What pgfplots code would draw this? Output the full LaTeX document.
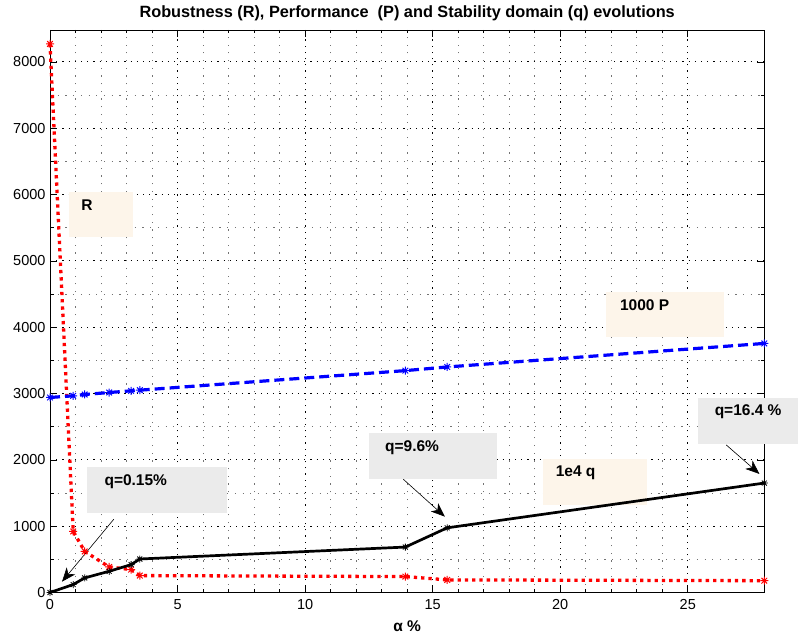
\documentclass[border=0pt]{standalone}
\usepackage{fontspec}
\setmainfont{Liberation Sans}
\usepackage{pgfplots}
\usepackage{pgfplotstable}
\pgfplotsset{compat=1.18}
\usetikzlibrary{arrows.meta}

% eight-armed asterisk (plus and cross overlaid)
\pgfdeclareplotmark{ast8}{%
  \pgfpathmoveto{\pgfqpoint{-\pgfplotmarksize}{0pt}}\pgfpathlineto{\pgfqpoint{\pgfplotmarksize}{0pt}}%
  \pgfpathmoveto{\pgfqpoint{0pt}{-\pgfplotmarksize}}\pgfpathlineto{\pgfqpoint{0pt}{\pgfplotmarksize}}%
  \pgfpathmoveto{\pgfqpoint{-0.707\pgfplotmarksize}{-0.707\pgfplotmarksize}}\pgfpathlineto{\pgfqpoint{0.707\pgfplotmarksize}{0.707\pgfplotmarksize}}%
  \pgfpathmoveto{\pgfqpoint{-0.707\pgfplotmarksize}{0.707\pgfplotmarksize}}\pgfpathlineto{\pgfqpoint{0.707\pgfplotmarksize}{-0.707\pgfplotmarksize}}%
  \pgfusepathqstroke}

\definecolor{boxorange}{RGB}{253,245,234}
\definecolor{boxgray}{RGB}{235,235,235}

% alpha [%], robustness R, 1000*P, 1e4*q
\pgfplotstableread{
a      R     P     q
0      8270  2940  0
0.91   920   2965  120
1.36   620   2985  220
2.32   385   3015  320
3.18   345   3040  420
3.52   255   3050  505
13.93  240   3345  685
15.57  190   3400  975
28.0   178   3755  1650
}\evol

\newcommand{\tfont}{\fontsize{14.5}{17}\selectfont}
\newcommand{\bfont}{\fontsize{15.5}{18}\selectfont\bfseries}

\begin{document}
\begin{tikzpicture}
\path[use as bounding box] (0,0) rectangle (799pt,639pt);
\begin{axis}[
  at={(50pt,46.5pt)}, anchor=south west,
  scale only axis, width=714.3pt, height=562.5pt,
  xmin=0, xmax=28, ymin=0, ymax=8480,
  xtick={0,5,...,25}, ytick={0,1000,...,8000},
  minor x tick num=4, minor y tick num=1,
  tick align=inside, xtick pos=both, ytick pos=both,
  xticklabel pos=lower, yticklabel pos=left,
  major tick length=7pt, minor tick length=3.5pt,
  every tick/.style={black, line width=0.6pt},
  axis line style={black, line width=0.9pt},
  grid=both,
  major grid style={black, line width=0.8pt, dash pattern=on 1.2pt off 5pt},
  minor grid style={black!55, line width=0.8pt, dash pattern=on 1.2pt off 6.5pt},
  scaled ticks=false,
  /pgf/number format/1000 sep={},
  /pgf/number format/assume math mode=true,
  tick label style={font=\tfont},
  xticklabel style={yshift=-3pt},
  yticklabel style={xshift=-1pt},
  title={Robustness (R), Performance\ \ (P) and Stability domain (q) evolutions},
  title style={font=\fontsize{16.3}{19}\selectfont\bfseries, at={(0.5,1)}, anchor=base, yshift=6pt},
  xlabel={α \%},
  xlabel style={font=\fontsize{15.5}{18}\selectfont\bfseries, at={(axis description cs:0.5,0)}, anchor=base, yshift=-39pt},
  clip=false,
]
% annotation boxes
\fill[boxorange] (axis cs:0.73,5357) rectangle (axis cs:3.24,6044);
\fill[boxorange] (axis cs:21.81,3849) rectangle (axis cs:26.41,4536);
\fill[boxorange] (axis cs:19.31,1320) rectangle (axis cs:23.42,2009);
\fill[boxgray] (axis cs:1.45,1194) rectangle (axis cs:6.93,1897);
\fill[boxgray] (axis cs:12.51,1707) rectangle (axis cs:17.51,2405);
\fill[boxgray] (axis cs:25.39,2239) rectangle (axis cs:29.34,2933);

% robustness
\addplot[red, line width=3.3pt, dash pattern=on 3.3pt off 4pt,
  mark=ast8, mark size=4pt, mark options={solid, line width=1pt}]
  table[x=a, y=R] {\evol};
% performance
\addplot[blue, line width=3.2pt, dash pattern=on 10pt off 5pt,
  mark=ast8, mark size=4pt, mark options={solid, line width=1pt}]
  table[x=a, y=P] {\evol};
% stability domain
\addplot[black, line width=2.7pt,
  mark=ast8, mark size=3.5pt, mark options={solid, line width=0.8pt}]
  table[x=a, y=q] {\evol};

% labels
\node[anchor=west, inner sep=0, font=\bfont] at (axis cs:1.22,5844) {R};
\node[anchor=west, inner sep=0, font=\bfont] at (axis cs:22.34,4336) {1000 P};
\node[anchor=west, inner sep=0, font=\bfont] at (axis cs:19.82,1802) {1e4 q};
\node[anchor=west, inner sep=0, font=\bfont] at (axis cs:2.13,1671) {q=0.15\%};
\node[anchor=west, inner sep=0, font=\bfont] at (axis cs:13.13,2184) {q=9.6\%};
\node[anchor=west, inner sep=0, font=\bfont] at (axis cs:26.05,2722) {q=16.4 \%};

% arrows
\draw[line width=0.6pt, -{Stealth[length=14pt, width=11pt, inset=4pt]}] (axis cs:2.5,1104) -- (axis cs:0.47,163);
\draw[line width=0.6pt, -{Stealth[length=14pt, width=11pt, inset=4pt]}] (axis cs:13.85,1707) -- (axis cs:15.48,1143);
\draw[line width=0.6pt, -{Stealth[length=14pt, width=11pt, inset=4pt]}] (axis cs:26.51,2224) -- (axis cs:27.81,1787);
\end{axis}
\end{tikzpicture}
\end{document}
